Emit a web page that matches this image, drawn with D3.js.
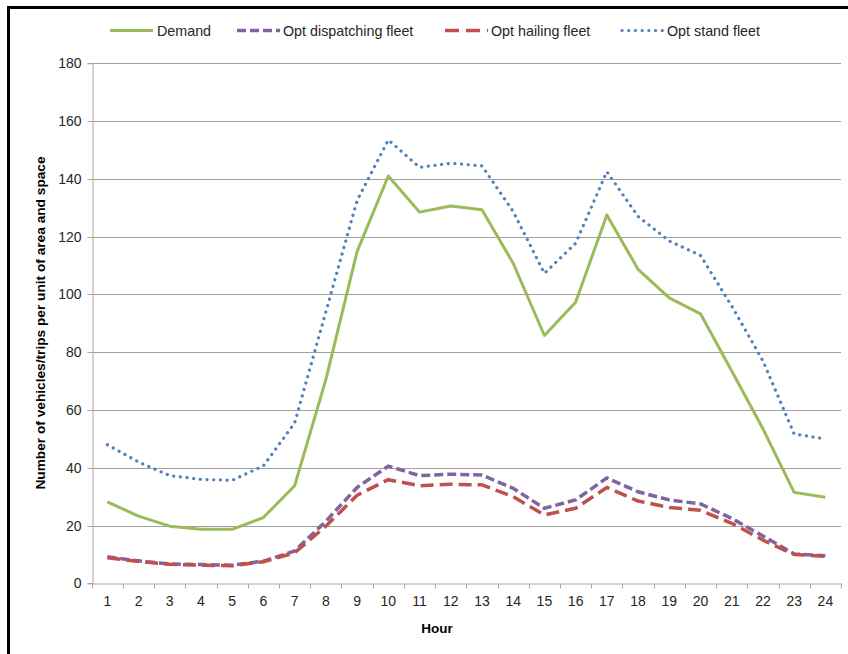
<!DOCTYPE html>
<html><head><meta charset="utf-8">
<script src="https://cdn.jsdelivr.net/npm/d3@7"></script>
<style>
html,body{margin:0;padding:0;background:#fff;}
svg text{font-family:"Liberation Sans",Arial,sans-serif;}
</style></head>
<body><svg id="chart" width="848" height="654"></svg>
<script>
const hours = ["1","2","3","4","5","6","7","8","9","10","11","12","13","14","15","16","17","18","19","20","21","22","23","24"];
const demand = [28.2,23.3,19.8,18.7,18.7,22.8,33.8,70.5,114.8,141,128.5,130.6,129.3,110.8,85.8,97.3,127.5,108.7,98.8,93.3,73.5,53.5,31.5,29.8];
const dispatching = [9.2,7.8,6.7,6.5,6.3,7.7,11.2,21.5,33.2,40.6,37.3,37.8,37.5,32.9,26,28.9,36.5,31.7,28.9,27.5,22.5,16.4,10.2,9.6];
const hailing = [8.9,7.6,6.6,6.3,6.1,7.5,10.6,19.8,30.5,35.9,33.8,34.3,34.1,30,23.7,26,33.2,28.5,26.3,25.3,20.8,15,10,9.4];
const stand = [48,42,37.3,36,35.7,40.7,55.5,94,132.5,153.5,144,145.4,144.5,128.7,107.3,117.7,142.5,127,118.5,113.5,96,77,51.7,50];
const yTicks = [0,20,40,60,80,100,120,140,160,180];
const seriesNames = ["Demand","Opt dispatching fleet","Opt hailing fleet","Opt stand fleet"];

const svg = d3.select("#chart");
const pL = 91.7, pR = 841, pT = 63.3, pB = 583.4;

// frame
svg.append("line").attr("x1",8.5).attr("y1",6).attr("x2",8.5).attr("y2",654).attr("stroke","#000").attr("stroke-width",3);
svg.append("line").attr("x1",7).attr("y1",7.5).attr("x2",848).attr("y2",7.5).attr("stroke","#000").attr("stroke-width",3);

const x = d3.scaleBand().domain(hours).range([pL,pR]);
const y = d3.scaleLinear().domain([0,180]).range([pB,pT]);

// gridlines
svg.append("g").selectAll("line").data(yTicks.filter(d=>d>0)).join("line")
  .attr("x1",pL).attr("x2",pR).attr("y1",d=>Math.round(y(d))+0.5).attr("y2",d=>Math.round(y(d))+0.5)
  .attr("stroke","#a0a0a0").attr("stroke-width",1);

// y axis
const yAxis = svg.append("g").attr("transform",`translate(${Math.round(pL)+0.5},0)`)
  .call(d3.axisLeft(y).tickValues(yTicks).tickSize(5).tickPadding(6));
yAxis.select(".domain").attr("stroke","#a6a6a6");
yAxis.selectAll(".tick line").attr("stroke","#a6a6a6");
yAxis.selectAll(".tick text").attr("font-size","14px").attr("fill","#262626");
yAxis.selectAll(".tick").attr("transform",d=>`translate(0,${Math.round(y(d))+0.5})`);

// x axis
const xAxis = svg.append("g").attr("transform",`translate(0,${Math.round(pB)+0.5})`)
  .call(d3.axisBottom(x).tickSize(0).tickPadding(13));
xAxis.select(".domain").attr("stroke","#a6a6a6");
xAxis.selectAll(".tick text").attr("font-size","14px").attr("fill","#262626");
const bounds = hours.map(h=>x(h)).concat([pR]);
xAxis.selectAll(".bnd").data(bounds).join("line").attr("class","bnd")
  .attr("x1",d=>Math.round(d)+0.5).attr("x2",d=>Math.round(d)+0.5).attr("y1",0).attr("y2",5)
  .attr("stroke","#a6a6a6");

// axis titles
svg.append("text").attr("x",437).attr("y",633).attr("text-anchor","middle")
  .attr("font-size","13.5px").attr("font-weight","bold").attr("fill","#000").text("Hour");
svg.append("text").attr("transform","translate(45,323) rotate(-90)").attr("text-anchor","middle")
  .attr("font-size","13.7px").attr("font-weight","bold").attr("fill","#000")
  .text("Number of vehicles/trips per unit of area and space");

const cx = h => x(h) + x.bandwidth()/2;
const line = d3.line().x((d,i)=>cx(hours[i])).y(d=>y(d));

const styles = [
  {data:demand, color:"#9bbb59", width:3, dash:null, cap:"butt"},
  {data:dispatching, color:"#8064a2", width:3.5, dash:"9 4", cap:"butt"},
  {data:hailing, color:"#c0504d", width:3.5, dash:"13 6", cap:"butt"},
  {data:stand, color:"#4f81bd", width:3.2, dash:"0.1 6.6", cap:"round"}
];
[0,1,2,3].forEach(k=>{
  const s = styles[k];
  svg.append("path").datum(s.data).attr("d",line).attr("fill","none")
    .attr("stroke",s.color).attr("stroke-width",s.width)
    .attr("stroke-dasharray",s.dash).attr("stroke-linecap",s.cap).attr("stroke-linejoin","round");
});

// legend
const legX = [{x1:110,x2:153,tx:157},{x1:237,x2:280,tx:283},{x1:445,x2:488,tx:491},{x1:622,x2:663,tx:667}];
const legDash = [null,"9 4","14 7","0.1 6.6"];
seriesNames.forEach((n,k)=>{
  const s = styles[k], p = legX[k];
  svg.append("line").attr("x1",p.x1).attr("x2",p.x2).attr("y1",30.5).attr("y2",30.5)
    .attr("stroke",s.color).attr("stroke-width",s.width).attr("stroke-dasharray",legDash[k]).attr("stroke-linecap",s.cap);
  svg.append("text").attr("x",p.tx).attr("y",35.5).attr("font-size","14.3px").attr("fill","#262626").text(n);
});
</script></body></html>
